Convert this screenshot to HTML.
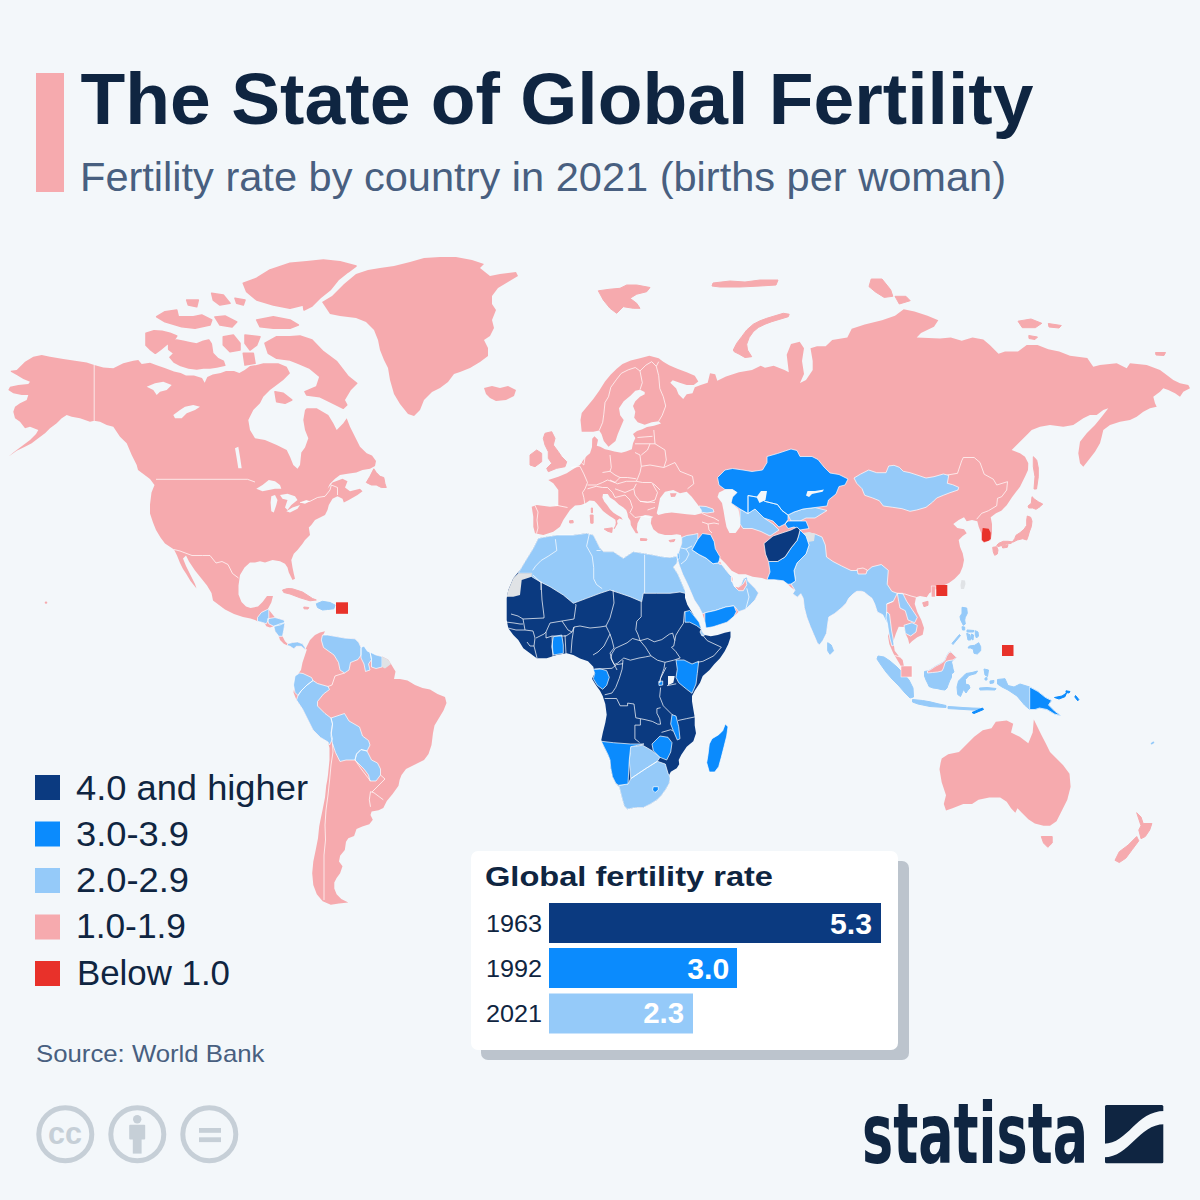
<!DOCTYPE html>
<html><head><meta charset="utf-8"><title>The State of Global Fertility</title>
<style>
html,body{margin:0;padding:0;background:#f3f7fa;}
body{width:1200px;height:1200px;overflow:hidden;position:relative;}
svg{display:block;}
text{font-family:"Liberation Sans",Arial,sans-serif;}
</style></head><body>
<svg width="1200" height="1200" viewBox="0 0 1200 1200">
<rect x="0" y="0" width="1200" height="1200" fill="#f3f7fa"/>
<g id="map">
<path fill="#f6aaae" stroke="#f6aaae" stroke-width="1.6" stroke-linejoin="round" d="M265 343.3 276.7 336.7 290 336.7 300 336 312 340 323.3 351.7 336.7 361.7 348.3 376.7 356.7 383.3 350 390 344 400 346.7 405 343.3 408.3 333.3 403.3 320 396.7 306.7 395 305 391.7 316.7 386.7 320 376.7 310 368.3 298.3 363.3 290 360 276.7 358.3 268.3 353.3ZM275 391.7 283.3 393.3 291.7 400 285 403.3 276.7 401.7ZM146 333.3 154 330.7 162 331.3 170 333.3 176.7 336 174 340 167.3 344 160.7 349.3 155.3 353.3 150 349.3 146 345.3ZM168.7 342.7 176.7 340 183.3 341.3 190 342.7 196.7 344 203.3 341.3 208.7 340 211.3 344 212.7 353.3 218 358.7 223.3 361.3 224.7 365.3 216.7 367 210 368 203.3 368 196.7 369 188.7 368 180.7 365.5 174 362 170 357.3 174 353.3 168.7 349.3ZM223.3 336.7 233.3 335 240 343.3 240 350 230 351.7 223.3 345ZM245 335 260 336.7 256.7 345 250 350 245 343.3ZM243.3 353.3 253.3 353.3 255 363.3 245 365ZM156.7 316.7 165 311.7 176.7 310 178.3 316.7 193.3 316.7 201.7 315 211.7 320 210 325 195 328.3 181.7 326.7 165 321.7ZM215 317 225 316 236.7 322 232 327 220 325ZM256.7 320 273.3 316.7 290 320 298.3 325 290 328.3 273.3 328.3 260 326.7ZM243.3 283.3 256.7 278.3 270 270 290 263.3 306.7 261.7 323.3 260 340 261.7 356 266 348 272 338 280 330 290 320 298 312 306 304 310 303.3 305 290 308.3 273.3 305 256.7 300 246.7 291.7ZM211.7 293.3 223.3 295 230 303.3 220 305 213.3 300ZM235 298.3 245 300 243.3 305 236.7 303.3ZM186.7 300 198.3 300 196.7 306.7 188.3 305Z"/>
<path fill="#f6aaae" d="M10.8 370.8 16.7 370 25 361.7 33.3 356.7 41.7 355 50 356.7 63.3 359 75 360.8 86.7 362.5 94.2 365 103.3 367.5 113.3 368.3 123.3 363.3 133.3 360.8 138.3 360 141.7 364 150 362.7 156.7 365.3 164.7 368 174 371.5 180.7 373 186 375.5 194 375.5 202 378 204.7 382.7 207.3 377 212.7 374.5 220.7 373 226 371 234 371 239.3 373 244.7 370 250 366 256.7 365 263.3 363.3 278.3 363.3 286.7 366.7 290 373.3 283.3 380 276.7 385 270 390 263.3 396.7 260 403.3 253.3 410 248.3 420 250 430 255 438.3 265 440 276.7 445 286.7 450 290 456.7 293.3 465 297.5 468.8 300 465 301.3 452.5 305 447.5 308.3 438.3 305 430 303.3 420 305 410 306.7 408.3 316.7 408.3 328.3 415 333.3 423.3 336.7 430 343.3 423.3 346.7 418.3 350 426.7 355 436.7 360 446.7 366.7 453.3 372 455.5 376 461 375 466 370 468.8 362.5 470 356.3 472.5 347.5 473.8 340 475 335 478.8 330 483.8 327.5 488.8 332.5 482.5 342.5 478.8 347.5 481.3 345 487.5 350 491.3 360 488.8 362.5 491.3 357.5 495 348.8 500 343.8 502.5 342.5 498.8 337.5 496.3 332.5 498.8 328.8 505 327.5 510 325 515 320 517.5 315 520 311.3 525 308.8 527.5 310 535 305 540 302.5 543.8 297.5 550 293.8 553.8 291.3 560 292.5 567.5 293.8 573.8 295 578.8 292.5 580 288.8 572.5 287.5 567.5 285 563.8 280 561.3 272.5 560 265 562.5 260 561.3 255 562.5 250 562.5 244.5 567.5 240 575 238.5 585.5 238.5 594.5 241.5 602 246 606.5 250.5 608 258 606.5 262.5 602 267 596 273 596 271.3 602.5 268 608.8 275 617.5 283.8 620 285 622.5 283.8 630 282.5 636.3 285 641.3 287.5 643.8 292.5 642.5 297.5 641.9 302.5 643.8 305 647.5 305.5 650 301.3 646.3 296.3 646.3 293.8 648.8 290 646.3 287.5 645.5 283.8 643.8 280 640 278.8 636.3 275 631.3 273.8 626.3 270 627.5 266.3 626.3 265 623.8 262.5 622.5 257.5 621.3 255 620 250.5 618.5 243 617 234 614 225 609.5 219 605 213 600.5 211.5 593 207 585.5 201 578 195 570.5 189 561.5 186 555.5 183 558.5 186 566 190.5 575 195 584 196.5 588.5 190.5 581 186 573.5 183 569 180 563 177 555.5 174 549.5 169.5 546.5 165 543.5 160.5 537.5 156 530 153 522.5 150 513.5 150 504.5 151.5 492.5 154.5 485 150 479 144 474.5 138 470 136.7 465 131.7 455 126.7 443.3 120 436.7 113.3 426.7 106.7 425 100 421.7 94.2 420.8 90 421.7 80 418.3 71.7 416.7 66.7 415 61.7 418.3 56.7 423.3 50 428.3 45 433.3 38.3 438.3 31.7 443.3 25 446.7 16.7 450.8 8.3 456.7 14 452 22 446 30 440 36 434 38.3 430 30 426.7 25 428.3 20 421.7 15 418.3 13.3 411.7 15 406.7 20 403.3 26.7 400 28.3 395 21.7 395 13.3 393.3 8.3 390 10 386.7 18.3 385 28.3 384 30 381.7 23.3 379 16.7 375 10.8 371.7ZM322 302 332 296 344 284 356 274 368 270 380 268 394 266 410 262 424 258 440 257 456 257 472 260 484 264 480 268 490 276 500 274 516 272 518 276 508 282 498 288 492 296 492 304 496 310 492 320 494 328 490 336 484 340 488 348 488 356 480 362 470 368 460 372 454 374 448 382 440 388 432 392 424 400 420 410 414 416 408 414 400 404 394 394 390 380 388 368 384 360 380 350 378 340 374 330 366 322 356 318 340 316 330 314 326 308ZM484 388 492 386 500 388 508 386 516 390 514 396 506 400 496 401 490 398 486 394ZM305 650 310 640 315 635 320 632.5 325 631.3 322.5 636.3 327.5 635 335 636.3 345 638.1 355 638.8 358.8 642.5 361.3 647.5 367.5 651.3 371.3 655 376 655 382 656.5 388 659.5 391 664 395.5 671.5 394 679 400 679 407.5 680.5 415 685 422.5 688 430 689.5 437.5 694 445 697 446.5 703 443.5 710.5 439 718 434.5 725.5 433 733 431.5 745 428.5 754 424 760 415 764.5 406 769 401.5 775 399.6 780 398.5 785.8 392.6 794 386.8 801 383.3 808 378.6 810.3 371.6 811.5 370.5 815 372.8 819.7 369.3 824.3 362.3 826.6 356.5 829 354.1 836 348.3 838.3 346 841.8 344.8 850 340.1 855.8 339 861.6 342.5 866.3 340.1 873.3 336.6 878 334.3 882.6 334.3 888.5 336.6 894.3 341.3 899 348.3 902.4 339 903.6 330.8 904.8 322.7 901.3 316.8 894.3 313.3 885 312.2 873.3 313.3 861.6 315.7 850 318 838.3 319.2 826.6 320.3 820.8 322.7 809.2 325 797.5 326.2 785.8 327.3 780 328 775 329.5 760 329.5 748 328 742 320.5 737.5 313 730 308.5 721 302.5 709 296.5 700 293.5 692.5 295 683.5 296.5 676 301 670 302.5 662.5 307 649ZM543.3 535 535 533.3 533.3 526.7 533.3 516.7 531.7 506.7 536.7 505 550 506.7 558.3 506 558.3 500 558.3 490 553.3 483.3 548.3 480 558.3 476.7 566.7 473.3 571.7 470 580 465 583.3 460 586.7 456 590 453.3 592 447 592.2 438.7 594.5 436.3 598 439.8 596.8 445.7 600.3 446.8 605 449.2 609.7 450.3 614.3 451.5 621.3 452.7 626 451.5 631.8 449.2 633 443.3 635.3 438 633 434 637 431 642.3 429.3 647 427 654 425.8 661 423.5 658.7 421.2 651.7 422.3 644.7 424.7 637.7 422.3 634.2 417.7 635.3 411.8 633 406 635.3 401.3 640 396.7 644.7 394.3 644.7 392 640 389.7 635.3 390.8 630.7 395.5 623.7 401.3 619 408.3 620.2 415.3 623.7 420 621.3 425.8 617.8 434 615.5 441 608.5 446.8 603.8 441 601.5 434 599.2 430.5 593.3 431.7 587.5 431.7 581.7 431.7 580.5 420 581.7 413 587.5 406 593.3 399 599.2 390.8 605 381.5 610.8 374.5 616.7 368.7 622.5 364 630.7 360.5 640 358.2 649.3 355.8 658.7 358.2 663.3 361.7 669.2 365.2 677.3 368.7 686.7 372.2 694.8 375.7 698.3 381.5 693.7 385 686.7 385 679.7 382.7 672.7 380.3 670.3 382.7 676.2 388.5 678.5 394.3 683.2 399 686.7 394.3 692.5 393.2 694.8 387.3 700.7 385 707.7 382.7 710 373.3 715.2 374.3 717.3 380.8 726 376.5 739 372.2 752 370 760.7 365.7 765 367.8 773.7 365.7 784.5 370 788.8 372.2 786.7 354.8 791 344 799.7 341.8 804 348.3 802 361 804 374 800 383 806 380 812.7 370 812.7 361 810.5 348.3 817 346.2 825.7 346.2 832.2 340 847.3 337.5 851.7 328.8 864.7 324.5 882 320.2 895 315.8 903.7 309.3 914.5 311.5 927.5 315.8 938.3 320.2 934 326.7 921 333 916.7 337.5 940 338.5 950.8 337.4 961.7 340.7 972.5 337.4 983.3 339.6 989.8 345 998.5 353.7 1005 351.5 1018 351.5 1026.7 345 1037.5 345 1048.3 349.3 1059.2 351.5 1070 355.8 1087.3 358 1091.7 364.5 1093.3 366.7 1100 365 1116.7 363.3 1126.7 368.3 1130 363.3 1146.7 365 1160 370 1166.7 375 1173.3 380 1180 383.3 1188.3 385 1190 388.3 1183.3 391.7 1180 396.7 1175 393.3 1168.3 390 1163.3 388.3 1160 391.7 1153.3 396.7 1155 403.3 1156.7 406.7 1150 408.3 1143.3 411.7 1136.7 416.7 1130 420 1120 421.7 1110 425 1103.3 430 1101.7 436.7 1100 443.3 1095 451.7 1090 458.3 1083.3 466.7 1080 463.3 1078.3 453.3 1080 441.7 1086.7 433.3 1095 425 1101.7 416.7 1108.3 408.3 1103.3 410 1096.7 415 1090 415 1083.3 418.3 1073.3 425 1063.3 426.7 1050 425 1040 426.7 1031.7 430 1025 436.7 1016.7 445 1011.7 450 1020 453.3 1025 456.7 1028.3 463.3 1028 470 1025.3 476 1020 486.7 1012 497.3 1006.7 505.3 1001.3 510.7 996 513.3 990.7 517.3 992 524 992 533.3 990.7 540 984 542.7 981.3 540 981.3 533.3 978.7 526.7 977.3 521.3 972 520 966.7 521.3 964 517.3 958.7 520 953.3 524 957.3 528 964 529.3 966.7 533.3 962.7 536 958.7 540 960 546.7 962.7 553.3 964 560 962.7 566.7 960 573.3 954.7 578.7 949.3 582.7 944 585.3 936 589.3 929.3 593.3 926.7 597.3 920 596 916 597.3 914.7 604 917.3 612 921.3 620 924 628 922.7 634.7 917.3 637.3 912 641.3 909.3 644 908 638.7 905.3 633.3 904 627 898.7 626.7 896 633.3 893.3 641.3 894.7 650.7 898.7 656 902.7 660 904 666.7 901.3 666.7 897.3 660 893.3 653.3 889.3 644 888 636 890.7 628 889.3 620 886.7 612 882.7 614.7 877.3 612 874.7 604 872 598.3 867.3 594.8 865 592.5 861.5 591.3 856.8 591.3 853.3 593.7 848.7 598.3 846.3 603 841.7 607.7 834.7 613.5 828.8 617 827.7 624 826.5 633.3 823 640.3 819.5 645 817.2 642.7 813.7 634.5 810.2 626.3 806.7 617 804.3 607.7 803.2 598.3 800.8 593.7 797.3 597.2 792.7 593.7 795 590.2 790.3 586.7 788 584.3 783.3 580.8 774 579.7 767 579.7 762 578 752.7 576.7 745.7 574.3 738.7 574.3 731.7 570.8 725.8 563.8 720 558 718.8 561.5 721.2 563.8 724.7 568.5 729.3 574.3 731.7 576.7 731.7 580.2 734 586 736.3 588.3 741 584.8 743.3 579 746.8 576.7 748 581.3 751.5 584.8 755 588.3 758.5 593 755 600 750.3 604.7 745.7 609.3 738.7 611.7 734 616.3 727 622.2 720 624.5 713 626.8 706 628 704.8 621 702.5 614 699 607 694.3 600 690.8 591.8 687.3 583.7 682.7 574.3 679.2 565 676.8 556.8 678 555 678.3 553.3 680 548.3 681.7 543.3 681.7 537.5 680.8 535 676.7 534.2 671.7 535 665 535 658.3 533.3 653.3 529.2 650.8 523.3 651.5 518 653.3 516.7 649 515.5 645 515 640.8 516.7 637.5 523.3 636.7 529.2 638.3 533.3 635.8 533.3 633.3 529.2 630.8 525 630.4 520.8 628.1 517.3 627.5 513.8 626.3 510.3 623.4 507.4 618.8 504.5 614.7 500.4 610 497.5 607.7 494 603 494 602.4 497.5 604.2 501.6 607.1 505.1 610 509.2 613.5 512.7 617 515 621.1 517.3 622.8 519.7 619.3 518.5 617 520.8 617.6 523.8 615.8 526.7 614.7 529 613.5 528.4 615.3 525.5 615.8 522.6 615.3 519.7 612.9 517.9 610 516.2 606.5 513.8 603 510.9 599.5 506.8 596.6 503.3 594.3 501 589.6 500.4 585.5 503.3 580.8 505.1 575 505.5 570 510 563.3 520 560 526.7 553.3 531.7ZM941.7 758.5 948.2 754.2 959 752 967.7 743.3 974.2 736.8 982.8 730.3 991.5 728.2 995.8 721.7 1006.7 720.6 1013.2 723.8 1011 732.5 1019.7 736.8 1028.3 743.3 1032.7 732.5 1033.8 719.5 1037 726 1041.3 734.7 1045.7 743.3 1050 752 1056.5 758.5 1063 765 1069.5 773.7 1070.6 786.7 1067.3 799.7 1060.8 812.7 1056.5 821.3 1050 825.7 1043.5 825.7 1034.8 823.5 1028.3 819.2 1021.8 812.7 1017.5 808.3 1015.3 812.7 1011 808.3 1006.7 801.8 1000.2 797.5 989.3 797.5 978.5 799.7 972 804 963.3 804 952.5 808.3 946 810.5 943.8 804 946 795.3 941.7 782.3 939.5 769.3 940.6 762.8Z"/>
<path fill="#f6aaae" stroke="#f6aaae" stroke-width="1.0" stroke-linejoin="round" d="M569.5 520.8 573 520.5 573.2 522.8 569.8 523ZM366.3 482.5 370 476.3 373.8 468.8 376.3 472.5 380 476.3 383.8 477.5 385 483.8 386.3 487.5 381.3 487.5 376.3 485 371.3 485ZM282.5 590 287.5 588.5 292.5 588.8 302.5 592 312.5 598.5 316.3 600 310 600.8 300 597.8 290 594 283.8 592.5ZM303.8 607 308.8 607.5 308 609 304 608.8ZM545 433.3 551.7 431.7 555 438.3 553.3 445 558.3 451.7 561.7 456.7 566.7 461.7 565 466.7 556.7 468.3 548.3 471.7 546.7 468.3 551.7 463.3 548.3 458.3 548.3 451.7 545 445 543.3 438.3ZM530 455 536.7 450 541.7 453.3 541.7 461.7 535 466.7 530 465ZM604.2 529 612.3 527.8 611.8 532.5 607.7 531.3ZM590.2 515 593.1 515 593.1 523.2 590.8 523.2ZM591.3 508 592.5 508 592.5 512.7 591.3 512.7ZM640.5 538.5 647 539 646.5 540.5 640.5 540.5ZM669 540.5 675 539.5 674 541.5 670 541.8ZM598.3 290.8 610 289.2 620 288.3 626.7 285 636.7 285 650 287.5 646.7 291.7 636.7 294.2 630 298.3 636.7 303.3 640 308.3 633.3 308.3 623.3 306.7 616.7 313.3 610 308.3 603.3 300ZM733.3 350 736.7 343.3 741.7 336.7 746.7 330 753.3 324.2 760 320.8 766.7 318.3 775 315.8 783.3 313.3 789.2 314.2 788.3 316.7 780 319.2 771.7 321.7 765 324.2 758.3 327.5 753.3 331.7 749.2 337.5 746.7 344.2 747.5 350 751.7 356.7 745 357.5 739.2 354.2 734.2 351.7ZM871.2 279 882 279 890.7 289.8 892.8 296.3 884.2 297.4 875.5 292 869 286.6ZM895 296.3 905.9 296.3 910.2 300.7 899.3 304ZM713 283 730 281 745 282 760 280 778 280 776 285 760 286 740 287 720 287 712 286ZM1018 321.2 1031 319 1041.8 323.3 1035.3 327.7 1022.3 327.7ZM1048.3 323.5 1061.3 325.5 1059 328 1049 327ZM1028.8 335.5 1037.5 337 1035 339.5 1029 338.5ZM1155.5 352.5 1165.5 352.5 1164 355.5 1156 355ZM1033.3 456.7 1036.7 460 1038.3 468 1038.3 476.7 1036.5 489 1034 489 1035 476.7 1033.3 466.7ZM1032 496.7 1034.7 499.3 1038.7 502 1042.7 504 1040 506.7 1036 509.3 1032.7 508 1028.7 508 1028 506 1031.3 503.3ZM1027.3 516 1030.7 517.3 1032 521.3 1031.3 526.7 1029.3 532 1028 536.7 1026.7 540 1022.7 538.7 1017.3 540 1013.3 542 1008 541.3 1003.3 541.3 998.7 543.3 996.7 545.3 998 546.7 1002 545.3 1006.7 544 1011.3 543.3 1014.7 538.7 1016 535.3 1020 532.7 1024 529.3 1026.7 525.3 1026.7 520ZM992.7 547.3 996.7 546.7 998 550 997.3 554 994.7 555.3 993.3 552ZM1002 546 1008 544.7 1007.3 547.3 1002.7 548ZM922.7 602.7 928 601.3 928 605.3 924 606.7ZM1041.3 836.5 1052.2 836.5 1052.2 843 1047.8 847.3 1043.5 843ZM1136.7 812.7 1141 817 1143.2 823.5 1151.9 823.5 1149.7 830 1145.3 836.5 1141 838.7 1138.8 830 1141 825.7ZM1136.7 836.5 1138.8 840.8 1132.3 849.5 1125.8 858.2 1119.3 862.5 1115 860.3 1119.3 851.7 1128 845.2Z"/>
<path fill="#f3f7fa" d="M146.7 386.7 155 383.3 163.3 381.7 171.7 385 166.7 390 160 391.7 156.7 395 153.3 390ZM173.3 415 180 410 185 406.7 193.3 405 200 406.7 195 410 186.7 413.3 181.7 418.3 175 418.3ZM235 448.3 238.3 446.7 240 456.7 241.7 468.3 238.3 468.3 236.7 458.3ZM256.3 488.8 262.5 485 268.8 480 275 481.3 280 485 281.3 488.8 275 488.8 268.8 490 262.5 491.3ZM271.3 496.3 275 495 277.5 500 276.3 505 273.8 512.5 271.3 511.3 270.6 502.5ZM280 495 287.5 493.8 295 496.3 297.5 500 291.3 505 287.5 510 285 507.5 287.5 500 282.5 498.8ZM286.3 511.3 292.5 507.5 300 505 297.5 508.8 290 512.5ZM300 502.5 306.3 500 310 501.3 305 503.8Z"/>
<path fill="#0b3a80" d="M538.3 538.3 546.7 536.7 558.3 535 573.3 535 586.7 533.3 593.3 535 596.7 541.7 600 548.3 603.3 551.7 613.3 551.7 623.3 558.3 628.3 555 633.3 551.7 643.3 553.3 653.3 555 661.7 556.7 670 557.5 678 556 677 563 673.3 567 678 574.3 681.5 582.5 685 590.7 685 597.7 687.3 604.7 690.8 610.5 694.3 616.3 699 622.2 701.3 629.2 702.5 632.7 704.8 635 710.7 636.2 717.7 635 724.7 632.7 730.5 631.5 730.5 637.3 728.2 644.3 724.7 651.3 720 658.3 714.2 664.2 709.5 670 702.7 676 700 682.7 694.7 690.7 692 696 692 701.3 693.3 709.3 694.7 717.3 694.7 725.3 696 733.3 693.3 741.3 686.7 746.7 681.3 754.7 678.7 760 679.2 764.2 676.7 768.3 670.8 771.7 669.2 775 670 778.3 669.2 783.3 665.8 789.2 661.7 795 656.7 800 650 804.2 643.3 807.5 636.7 807.5 631.7 808.3 627.5 809.2 624.2 805.8 622.5 800 620.8 793.3 619.2 786.7 615.8 783.3 612.5 776.7 610.8 768.3 610 760 608 754.7 604 746.7 601.3 740 602.7 733.3 605.3 722.7 606.7 714.7 605.3 704 602.7 696 600 690.7 596 685.3 592 678.7 594.7 673.3 593.3 666.7 588 661.3 580 658.5 573.3 655 566.7 653.3 556.7 655 546.7 658.3 536.7 658.3 530 653.3 523.3 648.3 518.3 640 513.3 635 508.3 628.3 506.7 620 506.7 610 506.7 598.3 508.3 590 513.3 578.3 520 570 525 561.7 533.3 548.3Z"/>
<path fill="#f3f7fa" d="M668 676 674.7 676 673.3 682.7 668 685.3Z"/>
<path fill="#95caf9" stroke="#ffffff" stroke-width="0.7" stroke-linejoin="round" d="M538.3 538.3 546.7 536.7 558.3 535 573.3 535 586.7 533.3 593.3 535 596.7 541.7 600 548.3 603.3 551.7 613.3 551.7 623.3 558.3 628.3 555 633.3 551.7 643.3 553.3 653.3 555 661.7 556.7 670 557.5 678 556 677 563 673.3 567 678 574.3 681.5 582.5 685 590.7 686 593.5 680 592 670 593.3 656.7 593.3 643.3 593.3 641.7 601.7 630 596.7 620 593.3 610 590 600 593.3 586.7 598.3 573.3 603.3 563.3 595 550 586.7 540 581.7 531.7 576.7 531.7 573.3 518.3 573.3 520 570 525 561.7 533.3 548.3ZM630.7 746.7 642.7 745.3 652 750.7 660 757.3 657.3 761.3 646.7 768 638.7 773.3 630.7 778.7 629.3 760ZM618.7 785.3 628 784 630.7 778.7 638.7 773.3 646.7 768 657.3 761.3 665.3 764 668 773.3 669.2 775 670 778.3 669.2 783.3 665.8 789.2 661.7 795 656.7 800 650 804.2 643.3 807.5 636.7 807.5 631.7 808.3 627.5 809.2 624.2 805.8 622.5 800 620.8 793.3 619.2 786.7ZM701.3 629.2 702.5 632.7 704.8 635 702 636 700 632ZM681.7 537.5 686.7 535.5 693.3 534.5 697.8 533.5 697.8 539.3 692 549.8 699 554.5 706 558 713 563.8 718.8 562.7 721.2 563.8 724.7 568.5 729.3 574.3 731.7 576.7 731.7 580.2 734 586 736.3 588.3 741 584.8 743.3 579 746.8 576.7 748 581.3 751.5 584.8 755 588.3 758.5 593 755 600 750.3 604.7 745.7 609.3 738.7 611.7 736 608 734 605.8 725.8 607 715.3 610.5 704.8 612.8 702.5 614 699 607 694.3 600 690.8 591.8 687.3 583.7 682.7 574.3 679.2 565 676.8 556.8 678 555 678.3 553.3 680 548.3 681.7 543.3ZM699 506 706 506.5 713 509 714 512 707 513 700 512ZM740 509 747.5 513.5 755 509 764 518 773 524 779 530 770 536 761 531.5 752 528.5 743 528.5 740 524ZM806 536 809 533 815 534 822 537 825.3 545 826.5 557 833 561.5 841.7 566 851 570.5 860 570.5 865 572.7 872 566.8 881.3 564.5 888.3 570.3 887.2 584.3 891.8 591.3 897.3 593.3 893.3 601.3 886.7 604 886.7 612 888 625.3 885.3 620 882.7 614.7 877.3 612 874.7 604 872 598.3 867.3 594.8 865 592.5 861.5 591.3 856.8 591.3 853.3 593.7 848.7 598.3 846.3 603 841.7 607.7 834.7 613.5 828.8 617 827.7 624 826.5 633.3 823 640.3 819.5 645 817.2 642.7 813.7 634.5 810.2 626.3 806.7 617 804.3 607.7 803.2 598.3 800.8 593.7 797.3 597.2 792.7 593.7 795 590.2 791 584 795.5 581 794 570.5 797 563 806 554 809 545ZM897.3 593.3 902.7 593.3 906.7 601.3 912 609.3 917.3 617.3 914.7 622.7 908 620 905.3 610.7 900 608 898.7 601.3ZM904 625.3 912 622.7 917.3 625.3 916 632 910.7 636 905.3 633.3ZM854 478 860.7 474 868.7 470 876.7 472.7 886 472.7 888.7 466 894 465.3 899.3 467.3 903.3 471.3 910 472.7 918 475.3 926 478 934 476.7 943.3 474 948.7 475.3 947.3 483.3 952.7 484.7 958.7 487.3 958 490 950 492.7 943.3 495.3 936.7 498 932.7 502 926 507.3 916.7 510 910 511.3 902 508.7 892.7 507.3 883.3 506 879.3 500.7 872.7 498 864.7 495.3 862 488.7 856.7 483.3ZM321.3 640 322.5 635 327.5 635 335 636.3 345 638.1 355 638.8 358.8 642.5 361 647.5 361 655 358 659.5 350.5 662.5 349 670 344.5 673 340 670 338.5 662.5 334 655 323.5 647.5ZM361 647.5 364 646 367.5 651.3 370 652 371.5 659.5 368.5 664 370 670 365.5 671.5 364 664 361 658ZM370 652 376 655 382 656.5 382 667 376 668.5 371.5 667 371.5 659.5ZM295 676 299.5 673 303 673.5 311.5 677.5 313 680.5 307 685 301 691 298 695.5 295 692.5 293.5 685ZM298 695.5 301 691 307 685 313 680.5 317.5 683.5 328 686.5 329.5 689.5 323.5 694 317.5 701.5 317.5 706 325 713.5 331 718 332.5 724 331 733 332.5 739 329.5 745 328 742 320.5 737.5 313 730 308.5 721 302.5 709 296.5 700ZM331 718 340 715 344.5 713.5 349 721 359.5 727 362.5 736 368.5 740.5 370 745 367 751 361 749.5 356.5 754 355 760 346 760 340 761.5 335.5 752.5 332.5 743.5 331 736 332.5 724ZM356.5 754 361 749.5 367 751 370 757 371.5 760 377.5 763 380.5 769 380.5 775 376 781 370 781 368.5 775 364 769 358 763 355 760ZM257.5 617.5 261.3 612.5 268.8 608.8 268.8 618.8 266.3 623.8 262.5 622.5 257.5 621.3ZM267.5 618.8 275 617.5 283.8 620 285 622.5 280 625 273.8 626.3 268.8 623.8ZM273.8 626.3 280 623.8 285 622.5 283.8 630 282.5 636.3 278.8 636.3 275 631.3ZM287.5 643.8 292.5 642.5 297.5 641.9 302.5 643.8 305 647.5 305.5 650 301.3 646.3 296.3 646.3 293.8 648.8 290 646.3 287.5 645.5ZM788 515 794 512 803 509 815 507.5 827 510.5 815 518 806 518 800 521 791 521Z"/>
<path fill="#95caf9" stroke="#95caf9" stroke-width="1.0" stroke-linejoin="round" d="M827.7 642.7 831.2 645 833.5 650.8 830 654.3 827.7 650.8ZM878 656 884 657 890 661 897 667 903 673 909 680 913 688 913.5 697 910 698 905 693 899 686 892 679 886 672 881 665 877 659ZM912.5 699.5 922.5 700.5 930 701.8 938 703.8 946 705.5 946 707.5 938 707 930 706.5 918 704 912.5 702ZM948 706.5 956 707 964 707.6 972 708 980 708.3 980 710 972 710 964 709.5 956 709 948 708.6ZM924.5 671.5 924.5 676 926 680 928 684 929 686.5 933 688 937 688.5 941 689.5 945 690 947 688 948 685 950 680 951.5 677.5 951.5 674 954 672 953 669 952.5 666 951.5 662 953 660 956.5 657.5 954 655 951 652 949 652.5 946.5 656.5 945 660.5 942.5 662.5 940 664 936 666 933 668 930 670 927.5 671ZM957 687 958.5 681 963 676.5 966 673.5 972 672.5 977.5 671 976 673.5 969 675.5 965.5 679.5 965.5 684 969 685 970 688 968 690 966 693 963.5 689.5 960.5 696.5 957.7 694.5ZM997.5 679.5 1005 678.7 1008 685.5 1014 687 1020 684 1029.7 687 1038 691.5 1045.5 697.5 1051.5 700.5 1048.5 705 1054.5 711 1060.5 715.5 1054.5 714 1047 709.5 1039.5 708 1035 709.5 1029.7 709.5 1024.5 705 1017 696 1008 690 1002 687 997.5 684ZM962 607.3 966.7 608 967.3 613.3 965.3 617.3 964.7 620 965.3 624 963.3 625.3 960.7 620 960 616.7 962 613.3ZM974.7 645.3 978.7 642.7 980.7 646.7 980.7 650.7 977.3 654 974 653.3 973.3 649.3 970.7 648 968 648 969.3 646ZM975.3 630.7 978 632 978.5 636 976.5 638 975.3 635.3ZM966.7 633.3 970 634.7 970.7 640 968 640ZM962 626.7 964.7 627 964.7 630 962.5 630ZM952 643.3 959.5 634.5 960.5 635.5 953 644.5ZM984 669 988.5 670 987.5 676.5 985 675ZM979.5 688 987 687.5 996 688.5 995 690 987 689.8 980 690ZM971.5 634 973.5 635 973 640 971.5 639ZM967 630 974 630.5 973.5 632 967 632ZM990 681 994 680.5 993.5 683 990 683.5ZM985 678 987 677.5 987 680 985 680ZM316.3 603.8 322.5 601.3 330 602.5 335 605 333.8 608.8 327.5 609.5 322.5 610 317.5 607.5Z"/>
<path fill="#95caf9" stroke="#ffffff" stroke-width="0.7" stroke-linejoin="round" d="M886.7 612 889.5 614 890.5 622 891.5 630 893 638 894 645 892 646 890 639 888.5 631 887.5 624 886 618Z"/>
<path fill="#e0e3e6" d="M506.7 596.7 508.3 590 513.3 578.3 518.3 573.3 531.7 573.3 531.7 576.7 521.7 580 520 595 513.3 596.7ZM382 656.5 388 659.5 391 664 385 668.5 382 667ZM803 533 809 532 815 534 814 541 808 542 804 538ZM961.5 580 965 580.5 965.5 584 964 589 961 589 960.5 585Z"/>
<path fill="#0b8bfd" stroke="#0b8bfd" stroke-width="1.0" stroke-linejoin="round" d="M972 712.5 982.5 708 983.5 709.5 974 713.5ZM1054.5 697.5 1062 696 1066.5 693 1065 696.7 1059 699ZM1066 690.8 1070 691.5 1069 693 1066 692.5ZM1075.5 695.5 1078.8 699.5 1077.8 700.8 1074.8 697Z"/>
<path fill="#0b8bfd" stroke="#ffffff" stroke-width="0.7" stroke-linejoin="round" d="M553.3 636.7 561.7 635 563.3 645 563.3 653.3 553.3 655 551.7 646.7ZM593.3 669.3 600 668.7 606.7 670.7 609.3 677.3 606.7 685.3 602.7 689.3 597.3 685.3 593.3 678.7 594.7 673.3ZM676 660 684 660 692 664 698.7 661.3 697.3 673.3 696 684 692 693.3 686.7 689.3 678.7 682.7 676 677.3 677.3 669.3ZM658.7 681.5 662.7 681 662.7 685 659 685.5ZM672 714.7 676 716 678.7 726.7 680 738.7 677.3 740 673.3 730.7 670.7 724ZM652 744 660 736 668 737.3 672 742.7 670.7 752 666.7 760 660 757.3 653.3 750.7ZM601.3 741.3 613.3 742.7 630.7 744 644 744 630.7 746.7 629.3 760 628 784 618.7 785.3 615.8 783.3 612.5 776.7 610.8 768.3 610 760 608 754.7 604 746.7ZM653.3 786.7 658.3 786.7 658.3 790 655 792.5 652.5 790ZM685 611.7 689.7 610.5 694.3 616.3 699 622.2 701.3 629.2 696.7 625.7 689.7 622.2 685 622.2ZM725.3 724 728 726.7 726.7 736 724 746.7 721.3 757.3 718.7 766.7 714.7 772 709.3 772 706.7 762.7 708 754.7 709.3 744 712 738.7 718.7 734.7 722.7 730.7ZM704.8 612.8 715.3 610.5 725.8 607 734 605.8 736.3 611.7 734 616.3 727 622.2 720 624.5 713 626.8 706 628 704.8 621ZM677.3 553.5 678.8 553 679 559 677.5 559ZM692 549.8 697.8 539.3 702.5 533.5 710.7 534.7 714.2 541.7 715.3 548.7 720 556.8 718.8 562.7 713 563.8 706 558 699 554.5ZM717.5 477.5 725 470 732.5 468.5 743 470 752 471.5 762.5 470 767 462.5 767 456.5 777.5 453.5 791 449 797 450.5 800 456.5 812 456.5 818 459.5 824 467 830 473 839 474.5 848 479 845 485 839 486.5 836 494 828.5 500 827 506 815 507.5 803 509 794 512 788 515 782 510.5 777.5 504.5 765.5 501.5 756.5 497 748 495.5 748 513.5 740 509 737 507 731 503 732.5 497 737 492.5 732.5 489.5 725 489.5 719 485ZM748 495.5 756.5 497 765.5 501.5 777.5 504.5 782 510.5 788 515 788 519.5 785 524 779 527 773 521 764 518 755 509 748 513.5ZM788 521 800 521 806 521 809 528.5 800 530 794 527 788 528.5 785 524ZM800 530 806 536 809 545 806 554 797 563 794 570.5 795.5 581 791 584 788 584.3 783.3 580.8 774 579.7 767 579.7 770 572 768.5 561.5 777.5 561.5 785 557 791 548 797 540.5 798.5 536ZM1029.7 687 1038 691.5 1045.5 697.5 1051.5 700.5 1048.5 705 1054.5 711 1060.5 715.5 1054.5 714 1047 709.5 1039.5 708 1035 709.5 1029.7 709.5Z"/>
<path fill="#0b3a80" stroke="#ffffff" stroke-width="0.7" stroke-linejoin="round" d="M764 543.5 773 536 782 533 791 530 797 527 800 530 798.5 536 797 540.5 791 548 785 557 777.5 561.5 768.5 561.5 765.5 554Z"/>
<path fill="#f6aaae" stroke="#ffffff" stroke-width="0.7" stroke-linejoin="round" d="M734 586 738.7 587.2 743.3 583.7 745.7 579 746.8 584.8 743.3 590.7 738.7 590.7ZM731.3 577 732.8 577 733 581 731.5 581.5ZM718.8 561.5 721.2 562 721.2 564.5 719 564ZM857 569 863 568 867.3 570 866 574 858 574ZM927.5 671 930 670 933 668 936 666 940 664 942.5 662.5 945 660.5 946.5 656.5 949 652.5 951 652 954 655 956.5 657.5 953 660 949 660.5 946 661.5 945 663 943.5 668 942 671 937.5 672 932.5 672.5 927.5 673Z"/>
<path fill="#e8322a" d="M982.7 528 988.7 528.7 990.7 532.7 990.7 538.7 988.7 540.7 984 542 982 540 982 533.3Z"/>
<path fill="#f3f7fa" d="M656.7 513.3 658.3 506.7 660 498.3 665 491.7 673.3 490 680 493.3 686.7 491.7 691.7 496.7 696.7 503.3 701.7 510 701.7 513.3 695 515 686.7 514.2 678.3 513.3 671.7 512.5 665 513.3 658.3 515ZM719 492.5 725 489.5 732.5 489.5 737 492.5 732.5 497 731 503 738.5 509 740 518 740 527 735.5 533 729.5 533 726.5 527 725 519.5 723.5 510.5 722 503 717.5 497ZM756.5 497 761 491 767 491 765.5 500 759.5 503ZM806 495.5 807.5 491 815 491 824 489.5 822.5 491.7 812 494 809 497Z"/>
<path fill="#f6aaae" d="M670 493.3 676.7 493.3 675 496.7 671 497Z"/>
<path fill="none" stroke="#ffffff" stroke-width="0.8" stroke-opacity="0.9" stroke-linejoin="round" d="M533 575 541 582.5 542 600 544 616 544 618 533 618.5 523 619 518 616 511 614M523 619 525 630M506 622 514 623 520 624 523 624M508 628 516 630 525 630 533 631 535 638 534 646 536 654 537 658M527 642 530 646 534 646M575.5 604 576 605 574 619 562 621 550 623 546 632 544 634 536 638M546 632 546 638 552 636 566 636 572 632 568 630 562 621M552 636 553 657M565 635 566 654M572 632 574 627 572 640 571 653M574 627 580 626 590 628 600 627 606 626M613 590 614 603 610 618 607 624 606 626M606 626 610 634 604 646 598 652 593 655M610 634 612 640 614 648 610 653 612 660 617 670M641.2 601.7 641.2 616.8 636.8 621.2 635.8 629.8 637.9 634.2 640.1 640.7M640.1 640.7 632.5 638.5 627.1 642.8 615.2 648.3 611.9 653.7M640.1 640.7 647.7 638.5 654.2 641.8 661.8 639.6 669.3 634.2 672.6 633.1 674.8 640.7 673.7 646.1M684.5 611.4 683.4 623.3 679.1 629.8 675.8 635.3 674.8 640.7M640.1 640.7 645.5 647.2 650.9 655.8 657.4 660.2 665 662.3 673.7 660.2 680.2 658M673.7 646.1 671.5 647.2 675.8 651.5 680.2 658M611.9 653.7 610.8 658 614.1 664.5 617.3 663.4 623.8 658 630.3 660.2 639 658 645.5 656.9 650.9 655.8M665 662.3 663.9 668.8 660.7 677.5 659.6 682.9M701.8 634.2 707.3 640.7 721.3 647.2 713.8 655.8 702.9 661.3 697.5 662.3M623 660 622.1 669.2 619.3 678.3 615.7 687.5 612 693 604.7 694.8M594.6 669.2 612 668.3 616.6 664.6 623 663.7M604.7 698.5 616.6 698.5 620.2 705.8 627.6 705.8 627.6 703.1 634 704 635.8 717.8 640.4 718.7 640.4 725.1 634.9 725.1 634.9 738.8 639.5 742.5M640.4 718.7 645 719.6 652.3 721.4 657.8 724.2 660.6 724.2 659.7 718.7 656.9 713.2 656.9 708.6 660.6 707.7M660.6 687.5 659.7 696.7 663.3 705.8 665.2 707.7 670.7 713.2 672.5 715M666.1 667.3 660.6 678.3 659.7 682.9M678 720.5 686.3 718.7 695.4 716.8M661.5 732.4 670.7 729.7 673 731M667 685.7 676.2 683.8M555.4 539.2 556.8 550.5 548.3 556.2 541.2 560.4 535.6 566.1 532.7 570.3M589.4 533.5 586.6 546.2 592.2 556.2 593.7 567.5 593.7 578.8 596.5 584.5 602.2 588.7M596.5 550.5 600.7 550.5M644.6 554.7 644.6 593M541.2 581.7 541 590M571.3 467.5 580 466.3 583.8 473.8 587.5 482.5 585 488.8 582.5 492.5 583.8 497.5 585 505M580 461.3 583.8 465 585 457.5M610 455 611.3 467.5 610 471.3M602.5 472.5 610 471.3 615 475 620 477.5 615 482.5 607.5 480 602.5 482.5 596.3 485 587.5 485M587.5 488.8 596.3 486.3 602.5 487.5 607.5 487.5 612.5 492.5M620 477.5 627.5 477.5 636.3 478.8M640 455 641.3 466.3 640 472.5 637.5 478.8 636.3 481.3M641.3 466.3 650 465 663.8 467.5 666.3 460 665 450 655 443.8 650 443.8 647.5 450 641.3 455M636.3 481.3 642.5 482.5 651.3 482.5 655 485 660 490M663.8 467.5 675 462.5 680 471.3 692.5 476.3 693.8 483.8 687.5 488.8M617.5 483.8 626.3 481.3 636.3 481.3M615 488.8 625 492.5 633.8 488.8 636.3 483.8M633.8 488.8 635 495 640 501.3 647.5 502.5 655 500 657.5 492.5 652.5 483.8M640 501.3 655 502.5M612.5 492.5 615 497.5 625 495 630 500 632.5 507.5 630 512.5 635 517.5 642.5 516.3 650 517.5M647.5 510 655 507.5M635 443.8 650 443.8M637.5 437.5 652.5 436.3M635 452.5 640 455M653.8 430 655 443.8M555 505 567.5 507.5M610 480 617.5 483.8M535 505.5 538 512 537 520 538 528 536.5 533.5M599.2 430.5 602.7 422.3 603.8 414.2 605 402.5 608.5 396.7 610.8 387.3 616.7 379.2 621.3 373.3 628.3 369.8 635.3 367.5 640 371 642.3 382.7 640 389.7M640 371 645.8 365.2 651.7 361.7 656.3 366.3M656.3 366.3 658.7 375.7 659.8 388.5 663.3 396.7 665.7 406 662.2 415.3 658.7 421.2M656.3 366.3 658.7 361.7M701.7 513.3 708 516 714 518 719 521M708 524 709 530 712 533M702 522 708 524 714 523 719 524M947.5 475 957.5 473.3 961.7 460.8 963.3 457.5 974.2 457.5 980 462.5 984.2 474.2 993.3 479.2 996.7 485 1007.5 481.7 1006.7 490 1001.7 496.7 997.5 498.3 996.7 505.8M996.7 505.8 988.3 510.8 981.7 513.3 976.7 519.2M897.3 593.3 905 594 911 596 916 597.3M894.7 655.5 900 657M886.7 604 893.3 601.3M94.2 365 94.2 420.8M156 479.3 247.5 479.3 255 482M300 502.5 310 501.3 317.5 497.5 325 496.3 330 490 331.3 485 337.5 487.5 337.5 495M174 549.5 180 551 192 555.5 202.5 555.5 210 555.5 216 563 222 561.5 228 564.5 232.5 573.5 238.5 578M344.5 673 335 676 332 685 328 686.5M380.5 775 385 779 378 786 372 792M370.5 791.7 374 792.8 383.3 799.8M370.5 791.7 369.3 799.8 370.5 806.8M332.5 743.5 333 752 331 765 329.6 780 328 795 326 810 325 825 325.5 840 324 855 324 870 324 885 324 900M355 760 362 770 370.5 781M681 548 686 549 692 546M686 549 689 554 686 560 681 564M745.7 609.3 749 597 746.8 588.3"/>
<ellipse cx="1152.5" cy="743" rx="2" ry="1" fill="#95caf9" transform="rotate(-30 1152.5 743)"/>
<ellipse cx="46" cy="602.7" rx="1.3" ry="1.1" fill="#f6aaae"/>
<rect x="336" y="602.3" width="12" height="11.5" fill="#e8322a"/>
<rect x="936.3" y="585" width="11" height="11" fill="#e8322a"/>
<rect x="1002" y="645" width="11.5" height="11" fill="#e8322a"/>
<rect x="931.2" y="586" width="4" height="11" fill="#f6aaae" stroke="#fff" stroke-width="0.5"/>
<rect x="901" y="666" width="11" height="11" fill="#f6aaae" stroke="#fff" stroke-width="0.5"/>
</g>
<!-- header -->
<rect x="36" y="73" width="28" height="119" fill="#f6aaae"/>
<text x="80.5" y="124" font-size="72" font-weight="bold" fill="#0f2541" textLength="953" lengthAdjust="spacingAndGlyphs">The State of Global Fertility</text>
<text x="80" y="191" font-size="40" fill="#485f80" textLength="926" lengthAdjust="spacingAndGlyphs">Fertility rate by country in 2021 (births per woman)</text>
<!-- legend -->
<rect x="35" y="775" width="25" height="25" fill="#0b3a80"/>
<rect x="35" y="821.5" width="25" height="25" fill="#0b8bfd"/>
<rect x="35" y="868" width="25" height="25" fill="#95caf9"/>
<rect x="35" y="914.5" width="25" height="25" fill="#f6aaae"/>
<rect x="35" y="961" width="25" height="25" fill="#e8312a"/>
<g font-size="35.5" fill="#0f2541">
<text x="76" y="800" textLength="232" lengthAdjust="spacingAndGlyphs">4.0 and higher</text>
<text x="76" y="846" textLength="113" lengthAdjust="spacingAndGlyphs">3.0-3.9</text>
<text x="76" y="892" textLength="113" lengthAdjust="spacingAndGlyphs">2.0-2.9</text>
<text x="76" y="938" textLength="110" lengthAdjust="spacingAndGlyphs">1.0-1.9</text>
<text x="77" y="985" textLength="153" lengthAdjust="spacingAndGlyphs">Below 1.0</text>
</g>
<text x="36" y="1062" font-size="24" fill="#485f80" textLength="228.5" lengthAdjust="spacingAndGlyphs">Source: World Bank</text>
<!-- cc icons -->
<g fill="none" stroke="#c6cfd7" stroke-width="5">
<circle cx="65.3" cy="1134.2" r="26.5"/>
<circle cx="137.3" cy="1134.2" r="26.5"/>
<circle cx="209.3" cy="1134.2" r="26.5"/>
</g>
<g fill="#c6cfd7">
<text x="48" y="1143.7" font-size="31" font-weight="bold" textLength="34" lengthAdjust="spacingAndGlyphs">cc</text>
<circle cx="137.2" cy="1119.3" r="4.2"/>
<rect x="129.2" y="1124.8" width="16" height="14.6" rx="1"/>
<rect x="132.8" y="1137" width="8.8" height="16.6"/>
<rect x="199" y="1128" width="22" height="4.8"/>
<rect x="199" y="1137.3" width="22" height="4.8"/>
</g>
<!-- bar chart box -->
<rect x="481" y="861" width="428" height="199" rx="7" fill="#bcc4cd"/>
<rect x="471" y="851" width="427" height="199" rx="7" fill="#ffffff"/>
<text x="485" y="886" font-size="28" font-weight="bold" fill="#0f2541" textLength="288" lengthAdjust="spacingAndGlyphs">Global fertility rate</text>
<rect x="549" y="903" width="332" height="40" fill="#0b3a80"/>
<rect x="549" y="948" width="188" height="40" fill="#0b8bfd"/>
<rect x="549" y="993.5" width="144" height="40" fill="#95caf9"/>
<g font-size="24" fill="#0f2541">
<text x="486" y="932" textLength="56" lengthAdjust="spacingAndGlyphs">1963</text>
<text x="486" y="977" textLength="56" lengthAdjust="spacingAndGlyphs">1992</text>
<text x="486" y="1022" textLength="56" lengthAdjust="spacingAndGlyphs">2021</text>
</g>
<g font-size="29" font-weight="bold" fill="#ffffff">
<text x="830" y="934" textLength="42" lengthAdjust="spacingAndGlyphs">5.3</text>
<text x="687.3" y="978.5" textLength="42" lengthAdjust="spacingAndGlyphs">3.0</text>
<text x="643.2" y="1023" textLength="41" lengthAdjust="spacingAndGlyphs">2.3</text>
</g>
<!-- statista logo -->
<text x="862" y="1162.7" font-size="84" font-weight="bold" fill="#0f2541" textLength="226" lengthAdjust="spacingAndGlyphs" style="font-family:'DejaVu Sans Condensed','DejaVu Sans',sans-serif">statista</text>
<rect x="1105" y="1105" width="58.3" height="58.3" rx="1.5" fill="#0f2541"/>
<path d="M1104 1143.7 C1128 1143.7 1136 1111 1164.5 1111 L1164.5 1124.3 C1138 1124.3 1130 1157.3 1104 1157.3 Z" fill="#f3f7fa"/>
</svg>
</body></html>
